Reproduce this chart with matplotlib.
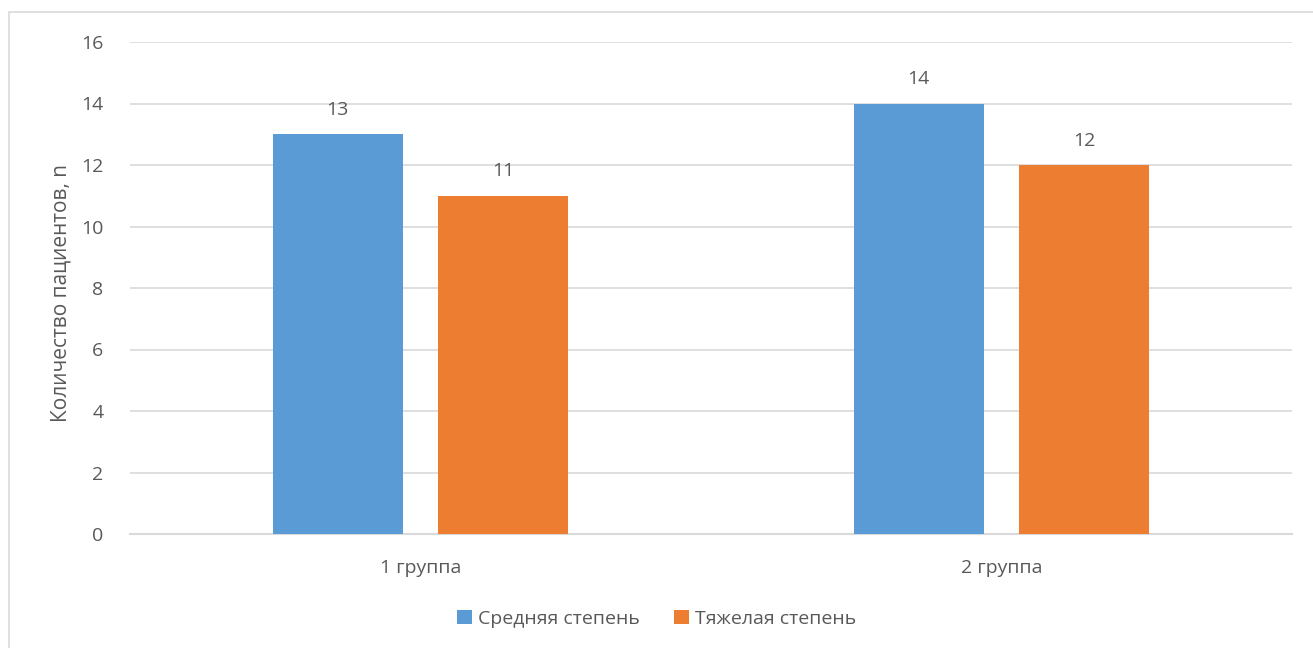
import numpy as np
import matplotlib.pyplot as plt
from matplotlib.patches import Rectangle

plt.rcParams['font.family'] = ['Open Sans', 'DejaVu Sans']

# data
groups = ["1 группа", "2 группа"]
series_names = ["Средняя степень", "Тяжелая степень"]
moderate = [13, 14]
severe = [11, 12]
colors = ["#5B9BD5", "#ED7D31"]
text_color = "#595959"

fig = plt.figure(figsize=(13.13, 6.48), dpi=100)
ax = fig.add_axes([130 / 1313, 1 - 534 / 648, 1162 / 1313, 492 / 648])

# chart border (cropped on right and bottom)
fig.patches.append(Rectangle((9 / 1313, -0.1), 1.2, 1 - 12 / 648 + 0.1,
                             transform=fig.transFigure, fill=False,
                             edgecolor="#D9D9D9", linewidth=1.2))

x = np.arange(len(groups))
w = 0.2234
off = 0.1426
b1 = ax.bar(x - off, moderate, w, color=colors[0], label=series_names[0], zorder=3)
b2 = ax.bar(x + off, severe, w, color=colors[1], label=series_names[1], zorder=3)

for bars in (b1, b2):
    ax.bar_label(bars, padding=11, fontsize=14, color=text_color)

ax.set_xlim(-0.5, 1.5)
ax.set_ylim(0, 16)
ax.set_yticks(range(0, 17, 2))
ax.set_xticks(x)
ax.set_xticklabels(groups)
ax.grid(axis="y", color="#D9D9D9", linewidth=1.2, zorder=0)
ax.tick_params(axis="both", length=0, labelsize=14, colors=text_color)
ax.tick_params(axis="y", pad=19)
ax.tick_params(axis="x", pad=18)
for s in ["top", "right", "left"]:
    ax.spines[s].set_visible(False)
ax.spines["bottom"].set_color("#D9D9D9")
ax.spines["bottom"].set_linewidth(1.5)

ax.set_ylabel("Количество пациентов, n", fontsize=15, color=text_color, labelpad=14)
ax.yaxis.set_label_coords(-58 / 1162, 0.49)

fig.legend(loc="center", bbox_to_anchor=(0.5, 1 - 619 / 648), ncol=2, frameon=False,
           fontsize=14, labelcolor=text_color, handlelength=0.75, handleheight=0.75,
           handletextpad=0.3, columnspacing=1.8)

fig.savefig("out.png", dpi=100)
